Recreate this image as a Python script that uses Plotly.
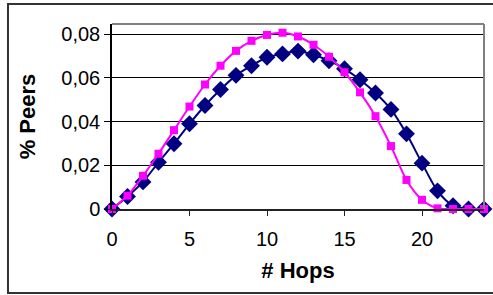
import plotly.graph_objects as go

hops = list(range(25))
navy_vals = [0.0, 0.0057, 0.0124, 0.0214, 0.0299, 0.039, 0.0474, 0.0547, 0.0612,
             0.0656, 0.0695, 0.071, 0.0723, 0.0706, 0.0679, 0.0642, 0.0592, 0.0531,
             0.0456, 0.0344, 0.021, 0.0083, 0.0015, 0.0, 0.0]
pink_vals = [0.0, 0.0061, 0.0152, 0.0253, 0.0361, 0.0469, 0.057, 0.0656, 0.0724,
             0.077, 0.0797, 0.0807, 0.079, 0.0752, 0.0697, 0.0626, 0.0534, 0.0425,
             0.0288, 0.0133, 0.0042, 0.0003, 0.0, 0.0, 0.0]
y_tickvals = [0, 0.02, 0.04, 0.06, 0.08]
y_ticktext = ["0", "0,02", "0,04", "0,06", "0,08"]
x_tickvals = [0, 5, 10, 15, 20]
x_ticktext = ["0", "5", "10", "15", "20"]

FONT = "Liberation Sans, Arial, sans-serif"

fig = go.Figure()
fig.add_trace(go.Scatter(
    x=hops, y=navy_vals, mode="lines+markers",
    line=dict(color="#000080", width=2, shape="spline", smoothing=0.8),
    marker=dict(symbol="diamond", size=13, color="#000080"),
    cliponaxis=False, showlegend=False))
fig.add_trace(go.Scatter(
    x=hops, y=pink_vals, mode="lines+markers",
    line=dict(color="#FF00FF", width=2, shape="spline", smoothing=0.8),
    marker=dict(symbol="square", size=8, color="#FF00FF"),
    cliponaxis=False, showlegend=False))

fig.update_layout(
    width=493, height=295,
    margin=dict(l=112, r=9, t=24, b=86, autoexpand=False),
    paper_bgcolor="white", plot_bgcolor="white",
    font=dict(family=FONT, color="black", size=20),
    xaxis=dict(range=[0, 24], tickvals=x_tickvals, ticktext=x_ticktext,
               automargin=False,
               showgrid=False, zeroline=False, showline=True, linecolor="#222",
               linewidth=1.5, ticks="outside", ticklen=5, tickcolor="#222",
               ticklabelstandoff=6,
               tickfont=dict(size=20),
               title=dict(text="<b># Hops</b>", font=dict(size=22), standoff=14)),
    yaxis=dict(range=[0, 0.0847], tickvals=y_tickvals, ticktext=y_ticktext,
               automargin=False,
               showgrid=True, gridcolor="black", gridwidth=1, zeroline=False,
               showline=True, linecolor="black", linewidth=1.5,
               ticks="outside", ticklen=6, tickcolor="black",
               tickfont=dict(size=20),
               title=dict(text="<b>% Peers</b>", font=dict(size=22), standoff=20)),
    shapes=[
        dict(type="line", xref="paper", yref="paper", x0=0, x1=1, y0=1, y1=1,
             line=dict(color="#808080", width=2)),
        dict(type="line", xref="paper", yref="paper", x0=1, x1=1, y0=0, y1=1,
             line=dict(color="#808080", width=2)),
        dict(type="rect", xref="paper", yref="paper", x0=-0.2796, x1=1.05,
             y0=-0.454, y1=1.108, line=dict(color="#333", width=2)),
    ],
)

fig.write_html("out.html", config={"displayModeBar": False},
               post_script="document.body.style.margin='0';document.body.style.overflow='hidden';")
